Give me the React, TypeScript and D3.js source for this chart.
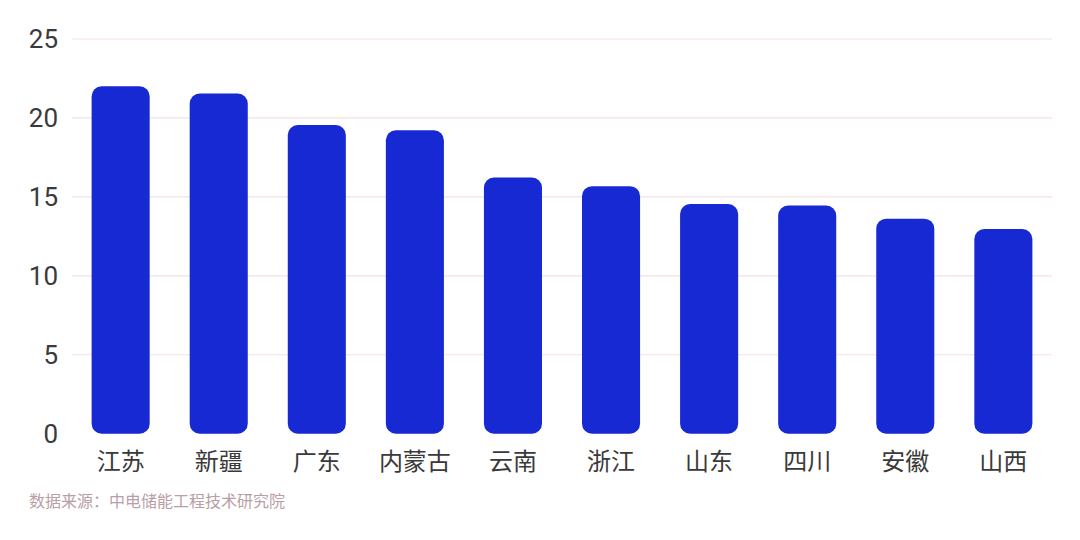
import { useEffect, useRef } from "react";
import * as d3 from "d3";

const provinces = ["江苏", "新疆", "广东", "内蒙古", "云南", "浙江", "山东", "四川", "安徽", "山西"];
const capacity = [22.0, 21.55, 19.55, 19.22, 16.23, 15.68, 14.55, 14.45, 13.62, 12.96];
const yTicks = [0, 5, 10, 15, 20, 25];
const sourceNote = "数据来源：中电储能工程技术研究院";

export default function App() {
    const svgRef = useRef<SVGSVGElement | null>(null);

    useEffect(() => {
        const width = 1080;
        const height = 540;
        const marginLeft = 72;
        const marginRight = 28;
        const marginTop = 39;
        const plotBottom = 433.7;
        const font = "'Noto Sans CJK SC', 'Noto Sans', sans-serif";

        const svg = d3.select(svgRef.current)
            .attr("width", width)
            .attr("height", height)
            .attr("viewBox", [0, 0, width, height].join(" "))
            .style("display", "block");

        svg.selectAll("*").remove();

        const x = d3.scaleBand<string>()
            .domain(provinces)
            .range([marginLeft, width - marginRight])
            .paddingInner(0.408)
            .paddingOuter(0.2);

        const y = d3.scaleLinear()
            .domain([0, 25])
            .range([plotBottom, marginTop]);

        // grid lines (no line at zero)
        svg.append("g")
            .selectAll("line")
            .data(yTicks.filter(t => t > 0))
            .join("line")
            .attr("x1", marginLeft)
            .attr("x2", width - marginRight)
            .attr("y1", d => y(d))
            .attr("y2", d => y(d))
            .attr("stroke", "#f6e1e3")
            .attr("stroke-width", 1.2);

        // y labels
        svg.append("g")
            .selectAll("text")
            .data(yTicks)
            .join("text")
            .attr("x", 58)
            .attr("y", d => y(d))
            .attr("dy", "0.36em")
            .attr("text-anchor", "end")
            .attr("font-family", "Roboto, 'Noto Sans', sans-serif")
            .attr("font-size", 26)
            .attr("fill", "#3a3a3a")
            .text(d => d);

        // bars, all corners rounded
        svg.append("g")
            .selectAll("rect")
            .data(provinces)
            .join("rect")
            .attr("x", d => x(d)!)
            .attr("width", x.bandwidth())
            .attr("y", (d, i) => y(capacity[i]))
            .attr("height", (d, i) => y(0) - y(capacity[i]))
            .attr("rx", 10)
            .attr("ry", 10)
            .attr("fill", "#1729d2");

        // category labels
        svg.append("g")
            .selectAll("text")
            .data(provinces)
            .join("text")
            .attr("x", d => x(d)! + x.bandwidth() / 2)
            .attr("y", 461)
            .attr("dy", "0.36em")
            .attr("text-anchor", "middle")
            .attr("font-family", font)
            .attr("font-size", 24)
            .attr("fill", "#3a3a3a")
            .text(d => d);

        svg.append("text")
            .attr("x", 29)
            .attr("y", 501)
            .attr("dy", "0.36em")
            .attr("font-family", font)
            .attr("font-size", 16)
            .attr("fill", "#b99ea6")
            .text(sourceNote);
    }, []);

    return (
        <div style={{ margin: -8, background: "#fff" }}>
            <svg ref={svgRef} />
        </div>
    );
}
